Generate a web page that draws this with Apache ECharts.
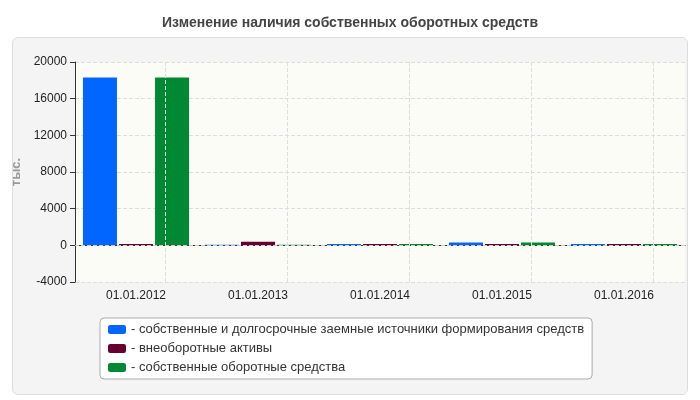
<!DOCTYPE html>
<html><head><meta charset="utf-8">
<script src="https://cdn.jsdelivr.net/npm/echarts@6/dist/echarts.min.js"></script>
<style>html,body{margin:0;padding:0;background:#fff}#c{width:700px;height:400px;position:relative}
#panel{position:absolute;left:12px;top:37px;width:676px;height:358px;background:#f4f4f4;border:1px solid #ddd;border-radius:6px;box-sizing:border-box}
#m{position:absolute;left:0;top:0;width:700px;height:400px}</style>
</head><body><div id="c"><div id="panel"></div><div id="m"></div></div>
<script>
const categories = ['01.01.2012','01.01.2013','01.01.2014','01.01.2015','01.01.2016'];
const seriesNames = ['собственные и долгосрочные заемные источники формирования средств','внеоборотные активы','собственные оборотные средства'];
const own = [18300, 60, 150, 300, 150];
const fixed = [150, 400, 150, 150, 150];
const working = [18300, 60, 150, 300, 150];
const colors = ['#0066ff','#660033','#008833'];
const chart = echarts.init(document.getElementById('m'));
chart.setOption({
  animation:false,
  title:{text:'Изменение наличия собственных оборотных средств',left:'center',top:11,textStyle:{fontSize:14,fontWeight:'bold',color:'#444',fontFamily:'Arial'}},
  grid:{left:75,right:15,top:62,bottom:118,backgroundColor:'#fcfcf7',show:true,borderWidth:0},
  legend:{orient:'vertical',left:100,top:318,width:500,itemWidth:18,itemHeight:9,itemGap:6,padding:[5,8,5,8],
    backgroundColor:'#fff',borderColor:'#aaa',borderWidth:1,borderRadius:4,
    textStyle:{fontSize:13,color:'#333',fontFamily:'Arial'},formatter:n=>'- '+n,
    data:seriesNames},
  xAxis:[{type:'category',data:categories,axisTick:{show:false},axisLine:{lineStyle:{color:'#333'}},
    axisLabel:{fontSize:12,color:'#222',fontFamily:'Arial'},splitLine:{show:false}},
    {type:'value',min:0,max:5,show:false}],
  yAxis:{type:'value',min:-4000,max:20000,interval:4000,name:'тыс.',nameLocation:'middle',nameGap:52,
    nameTextStyle:{fontSize:13,fontWeight:'bold',color:'#999'},
    axisLine:{show:true,lineStyle:{color:'#333'}},axisTick:{show:true},
    axisLabel:{fontSize:12,color:'#222',fontFamily:'Arial',formatter:v=>String(v)},
    splitLine:{lineStyle:{type:'dashed',color:'#ddd'}}},
  series:[
    {name:seriesNames[0],type:'bar',data:own,itemStyle:{color:colors[0]},barWidth:34,barGap:'6%'},
    {name:seriesNames[1],type:'bar',data:fixed,itemStyle:{color:colors[1]},barWidth:34,barGap:'6%'},
    {name:seriesNames[2],type:'bar',data:working,itemStyle:{color:colors[2]},barWidth:34,barGap:'6%',
     markLine:{silent:true,symbol:'none',label:{show:false},lineStyle:{color:'#ccc',type:'dashed',width:1},data:[{yAxis:0}]}},
    {type:'line',xAxisIndex:1,data:[],silent:true,
     markLine:{silent:true,symbol:'none',label:{show:false},lineStyle:{color:'#ddd',type:'dashed',width:1},
       data:[{xAxis:0.74},{xAxis:1.74},{xAxis:2.74},{xAxis:3.74},{xAxis:4.74}]}}
  ]
});
</script></body></html>
